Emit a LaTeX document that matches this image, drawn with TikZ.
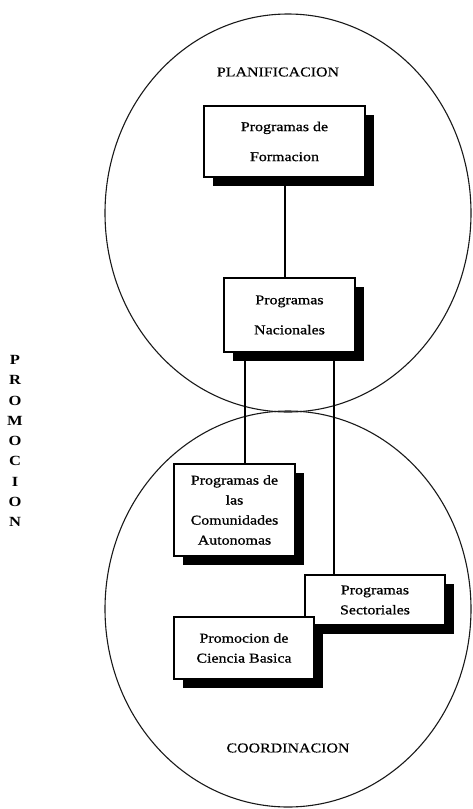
\documentclass[tikz,border=0pt]{standalone}
\usepackage{fontspec}
\setmainfont{Liberation Serif}[FakeStretch=1.18]
\newfontfamily\boxfont{Liberation Serif}[FakeStretch=1.18, FakeBold=0.9]
\newfontfamily\lblfont{Liberation Serif}[FakeStretch=1.18, FakeBold=0.4]
\usetikzlibrary{shadows}
\tikzset{
  circ/.style={draw=black!90, line width=1.1pt},
  box/.style={draw, line width=1.1pt, fill=white, inner sep=0pt, align=center,
    font=\boxfont\fontsize{13.5}{20}\selectfont,
    drop shadow={shadow xshift=9pt, shadow yshift=-9pt, fill=black, opacity=1}},
  lbl/.style={font=\lblfont\fontsize{13.5}{16}\selectfont, inner sep=0pt},
  vert/.style={font=\fontsize{14}{20.25}\selectfont\bfseries, align=center, inner sep=0pt},
  conn/.style={draw, line width=1.3pt}
}
\begin{document}
\begin{tikzpicture}[x=1pt,y=-1pt]
\useasboundingbox (0,0) rectangle (472,809);
\draw[circ] (288,213) ellipse [x radius=183pt, y radius=199pt];
\draw[circ] (288,609) ellipse [x radius=183pt, y radius=198pt];
\node[lbl] (plan) at (278,72) {PLANIFICACION};
\node[box, minimum width=161pt, minimum height=71pt] (form) at (284.5,141.5) {Programas de\\[10pt]Formacion};
\node[box, minimum width=131pt, minimum height=74pt] (nac) at (289.5,315) {Programas\\[10pt]Nacionales};
\node[box, minimum width=121pt, minimum height=92pt] (com) at (234.5,510) {Programas de\\las\\Comunidades\\Autonomas};
\node[box, minimum width=140pt, minimum height=50pt] (sec) at (375,600) {Programas\\Sectoriales};
\node[box, minimum width=140pt, minimum height=62pt] (pro) at (244,648) {Promocion de\\Ciencia Basica};
\node[lbl] (coord) at (288,748) {COORDINACION};
\node[vert] (prom) at (15,441) {P\\R\\O\\M\\O\\C\\I\\O\\N};
\coordinate (m) at (285,0);
\coordinate (l) at (245,0);
\coordinate (r) at (334,0);
\draw[conn] (form.south -| m) -- (nac.north -| m);
\draw[conn] (nac.south -| l) -- (com.north -| l);
\draw[conn] (nac.south -| r) -- (sec.north -| r);
\end{tikzpicture}
\end{document}
